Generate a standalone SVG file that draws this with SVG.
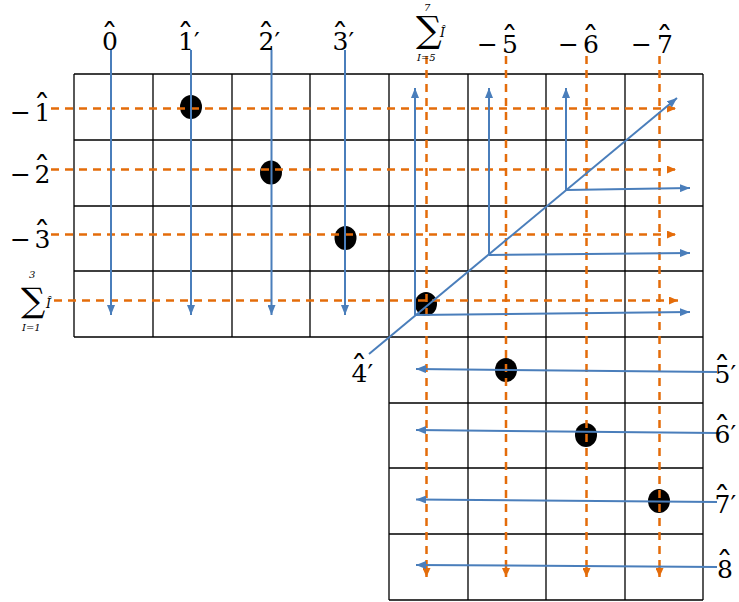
<svg xmlns="http://www.w3.org/2000/svg" width="739" height="602" viewBox="0 0 739 602">
<defs>
<style>
.grid{stroke:#000;stroke-width:1.3;fill:none}
.blue{stroke:#4A7EBB;stroke-width:2;fill:none}
.orange{stroke:#E46C0A;stroke-width:2.5;fill:none;stroke-dasharray:8,6}
.lab{font-family:"DejaVu Serif",serif;font-size:25px;fill:#000}
.hat{font-size:34px}
.small{font-family:"DejaVu Serif",serif;font-size:10px;font-style:italic;fill:#000}
.sig{font-family:"DejaVu Serif",serif;fill:#000}
.dot{fill:#000}
</style>
<marker id="ab" markerUnits="userSpaceOnUse" markerWidth="10" markerHeight="8" refX="10" refY="4" orient="auto"><path d="M0,0 L10,4 L0,8 z" fill="#4A7EBB"/></marker>
<marker id="ao" markerUnits="userSpaceOnUse" markerWidth="9" markerHeight="8" refX="9" refY="4" orient="auto"><path d="M0,0 L9,4 L0,8 z" fill="#E46C0A"/></marker>
</defs>
<rect width="739" height="602" fill="#fff"/>
<g id="grid" class="grid">
<path d="M74,74 H703 M74,140 H703 M74,206 H703 M74,271 H703 M74,337 H703 M389,403 H703 M389,468 H703 M389,534 H703 M389,600 H703"/>
<path d="M74,74 V337 M153,74 V337 M232,74 V337 M310,74 V337 M389,74 V600 M468,74 V600 M546,74 V600 M625,74 V600 M703,74 V600"/>
</g>
<g id="dots">
<ellipse id="d1" class="dot" cx="191" cy="107" rx="11" ry="12"/>
<ellipse id="d2" class="dot" cx="271" cy="172.5" rx="11" ry="12"/>
<ellipse id="d3" class="dot" cx="345.5" cy="238" rx="11" ry="12"/>
<ellipse id="d4" class="dot" cx="426" cy="304" rx="11" ry="12"/>
<ellipse id="d5" class="dot" cx="506" cy="370" rx="11" ry="12"/>
<ellipse id="d6" class="dot" cx="586" cy="435" rx="11" ry="12"/>
<ellipse id="d7" class="dot" cx="659" cy="501" rx="11" ry="12"/>
</g>
<g id="connectors">
<g class="orange">
<path d="M51,108.5 H676" marker-end="url(#ao)"/>
<path d="M51,169.5 H676" marker-end="url(#ao)"/>
<path d="M51,234.5 H676" marker-end="url(#ao)"/>
<path d="M54,300.5 H678" marker-end="url(#ao)"/>
<path d="M426.5,56 V577" marker-end="url(#ao)"/>
<path d="M506,56 V577" marker-end="url(#ao)"/>
<path d="M586.5,56 V577" marker-end="url(#ao)"/>
<path d="M659.5,56 V577" marker-end="url(#ao)"/>
</g>
<g class="blue">
<path d="M111,50 V315" marker-end="url(#ab)"/>
<path d="M191,50 V315" marker-end="url(#ab)"/>
<path d="M271.5,50 V315" marker-end="url(#ab)"/>
<path d="M345,50 V315" marker-end="url(#ab)"/>
<path d="M415,315 V88" marker-end="url(#ab)"/>
<path d="M489,255 V88" marker-end="url(#ab)"/>
<path d="M566,190 V88" marker-end="url(#ab)"/>
<path d="M369,354 L677,98" marker-end="url(#ab)"/>
<path d="M566,190 L690,188" marker-end="url(#ab)"/>
<path d="M489,255 L690,253" marker-end="url(#ab)"/>
<path d="M415,315 L690,312" marker-end="url(#ab)"/>
<path d="M717,372 L416,369" marker-end="url(#ab)"/>
<path d="M717,433 L416,430" marker-end="url(#ab)"/>
<path d="M717,502 L416,499.5" marker-end="url(#ab)"/>
<path d="M717,567 L416,565" marker-end="url(#ab)"/>
</g>
</g>
<g id="top-labels" class="lab">
<text id="t0"><tspan x="102" y="50">0</tspan><tspan class="hat" x="101" y="48">&#x2C6;</tspan></text>
<text id="t1"><tspan x="178" y="50">1&#x2032;</tspan><tspan class="hat" x="177" y="48">&#x2C6;</tspan></text>
<text id="t2"><tspan x="258.5" y="50">2&#x2032;</tspan><tspan class="hat" x="257.5" y="48">&#x2C6;</tspan></text>
<text id="t3"><tspan x="332.5" y="50">3&#x2032;</tspan><tspan class="hat" x="331.5" y="48">&#x2C6;</tspan></text>
<text id="t5"><tspan x="477" y="53">&#x2212;</tspan><tspan x="502" y="53">5</tspan><tspan class="hat" x="501" y="51">&#x2C6;</tspan></text>
<text id="t6"><tspan x="558" y="53">&#x2212;</tspan><tspan x="583" y="53">6</tspan><tspan class="hat" x="582" y="51">&#x2C6;</tspan></text>
<text id="t7"><tspan x="631" y="53">&#x2212;</tspan><tspan x="657" y="53">7</tspan><tspan class="hat" x="656" y="51">&#x2C6;</tspan></text>
</g>
<g id="sum-top">
<text class="sig" x="416" y="42" style="font-size:36px">&#x2211;</text>
<text class="small" x="424" y="11">7</text>
<text class="small" x="417" y="61">I=5</text>
<text class="small" x="440" y="37" style="font-size:13px">&#xCE;</text>
</g>
<g id="left-labels" class="lab">
<text id="l1"><tspan x="10" y="121">&#x2212;</tspan><tspan x="34.5" y="121">1</tspan><tspan class="hat" x="33.5" y="119">&#x2C6;</tspan></text>
<text id="l2"><tspan x="10" y="183">&#x2212;</tspan><tspan x="34.5" y="183">2</tspan><tspan class="hat" x="33.5" y="181">&#x2C6;</tspan></text>
<text id="l3"><tspan x="10" y="248">&#x2212;</tspan><tspan x="34.5" y="248">3</tspan><tspan class="hat" x="33.5" y="246">&#x2C6;</tspan></text>
</g>
<g id="sum-left">
<text class="sig" x="21" y="312" style="font-size:34px">&#x2211;</text>
<text class="small" x="29" y="278">3</text>
<text class="small" x="22" y="331">I=1</text>
<text class="small" x="46" y="308" style="font-size:13px">&#xCE;</text>
</g>
<g id="right-labels" class="lab">
<text id="r4"><tspan x="351.5" y="382">4&#x2032;</tspan><tspan class="hat" x="350.5" y="380">&#x2C6;</tspan></text>
<text id="r5"><tspan x="714.5" y="383">5&#x2032;</tspan><tspan class="hat" x="713.5" y="381">&#x2C6;</tspan></text>
<text id="r6"><tspan x="714.5" y="443">6&#x2032;</tspan><tspan class="hat" x="713.5" y="441">&#x2C6;</tspan></text>
<text id="r7"><tspan x="714.5" y="513">7&#x2032;</tspan><tspan class="hat" x="713.5" y="511">&#x2C6;</tspan></text>
<text id="r8"><tspan x="717" y="578">8</tspan><tspan class="hat" x="716" y="576">&#x2C6;</tspan></text>
</g>
</svg>
